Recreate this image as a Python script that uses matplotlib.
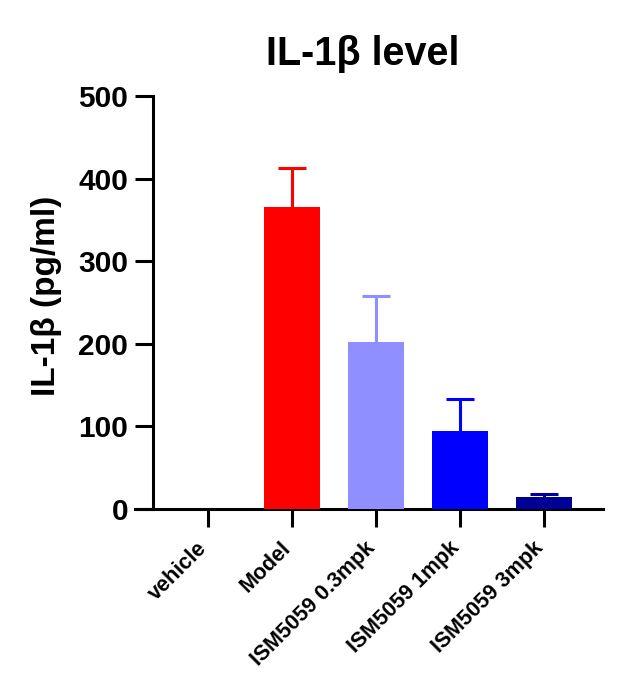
import matplotlib
matplotlib.use("Agg")
import matplotlib.pyplot as plt
import matplotlib.transforms as mtransforms

groups = ["vehicle", "Model", "ISM5059 0.3mpk", "ISM5059 1mpk", "ISM5059 3mpk"]
means = [0, 365.5, 202.5, 94.5, 14]
sem = [0, 47, 55.5, 38.5, 4]
colors = ["#FFFFFF", "#FF0000", "#8F8FFF", "#0000FF", "#000096"]

plt.rcParams["font.family"] = ["Liberation Sans", "DejaVu Sans"]
plt.rcParams["font.weight"] = "bold"

fig = plt.figure(figsize=(6.33, 7), dpi=100)
ax = fig.add_axes([135 / 633, 191 / 700, 468 / 633, 413 / 700])

x = list(range(len(groups)))
for i in x:
    if sem[i] > 0:
        eb = ax.errorbar(i, means[i], yerr=[[0], [sem[i]]], fmt="none",
                         ecolor=colors[i], elinewidth=2.2, capsize=10,
                         capthick=2.2, zorder=2)
        # hide the lower cap, only the upper whisker is shown
        eb[1][0].set_visible(False)
ax.bar(x, means, width=0.667, color=colors, zorder=3)

ax.set_xlim(-0.87, 4.70)
ax.set_ylim(0, 500)
ax.set_yticks([0, 100, 200, 300, 400, 500])
ax.set_xticks(x)

for s in ["top", "right"]:
    ax.spines[s].set_visible(False)
ax.spines["left"].set_position(("data", -0.655))
ax.spines["left"].set_linewidth(2.2)
ax.spines["bottom"].set_linewidth(2.2)
ax.tick_params(axis="both", direction="out", length=13, width=2.2)
ax.tick_params(axis="y", pad=5, labelsize=21.5)
ax.tick_params(axis="x", pad=13, labelsize=15.5)

ax.set_xticklabels(groups, rotation=45, ha="right", va="center",
                   rotation_mode="anchor", fontsize=15.5, fontweight="bold")
shift = mtransforms.ScaledTranslation(-4 / 100, 0, fig.dpi_scale_trans)
for lab in ax.get_xticklabels():
    lab.set_transform(lab.get_transform() + shift)

ax.set_ylabel("IL-1β (pg/ml)", fontsize=24, fontweight="bold")
ax.yaxis.set_label_coords(-0.156, 0.516)

fig.text(363 / 633, 1 - 65 / 700, "IL-1β level", ha="center", va="baseline",
         fontsize=28.5, fontweight="bold")

fig.savefig("out.png", dpi=100)
